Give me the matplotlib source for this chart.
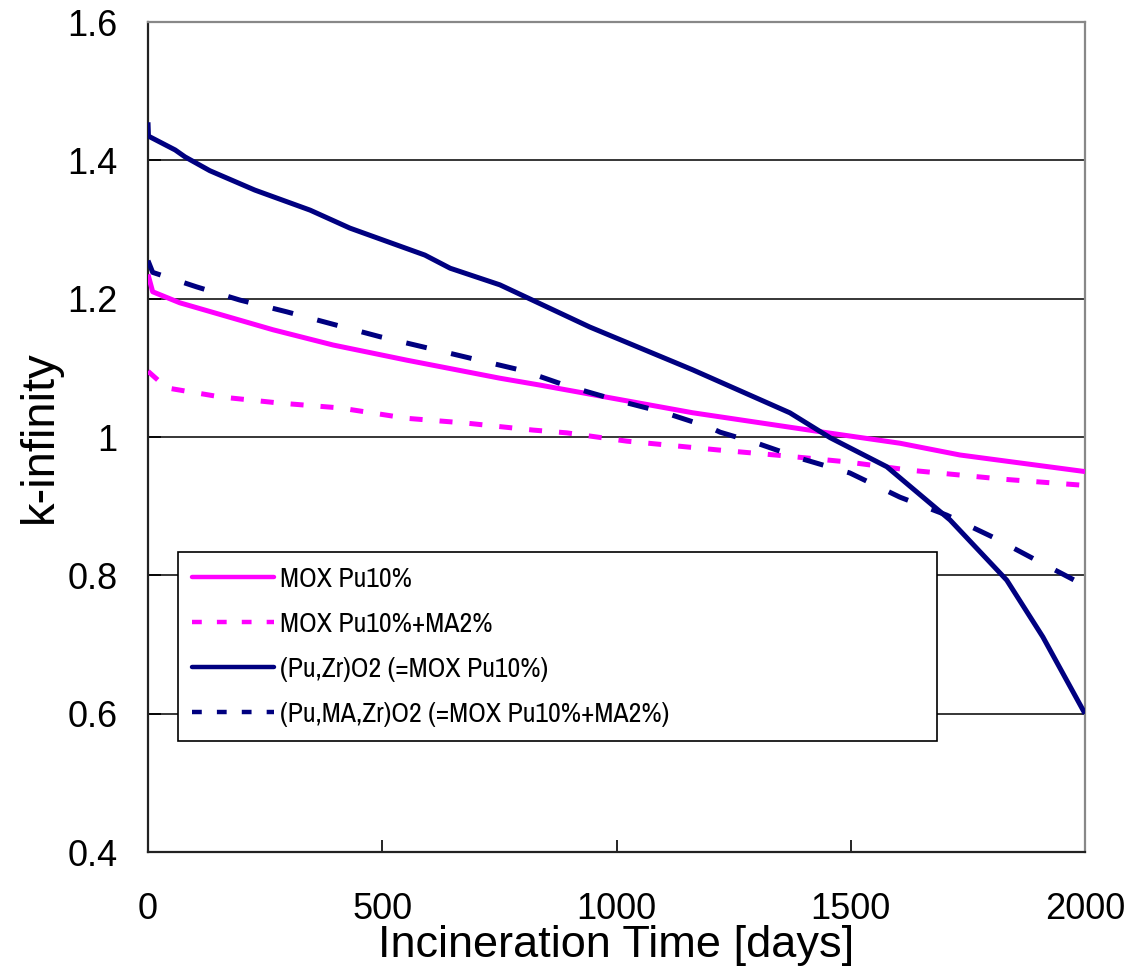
import matplotlib

matplotlib.use("Agg")
import matplotlib.pyplot as plt
from matplotlib.lines import Line2D

# k-infinity vs incineration time
mox_days = [0, 10, 68, 267, 395, 553, 751, 837, 1163, 1441, 1605, 1733, 2000]
mox_k = [1.235, 1.21, 1.194, 1.155, 1.133, 1.111, 1.085, 1.075, 1.035, 1.007, 0.991, 0.974, 0.950]

moxma_days = [0, 40, 154, 282, 410, 553, 681, 822, 894, 1022, 1221, 1355, 1492, 1626, 1825, 2000]
moxma_k = [1.095, 1.071, 1.058, 1.049, 1.042, 1.027, 1.020, 1.010, 1.006, 0.994, 0.981, 0.973,
           0.964, 0.952, 0.939, 0.930]

puzr_days = [0, 1, 58, 79, 132, 228, 346, 431, 591, 645, 751, 943, 1163, 1370, 1456, 1577,
             1712, 1833, 1910, 2000]
puzr_k = [1.455, 1.435, 1.415, 1.405, 1.385, 1.357, 1.328, 1.302, 1.263, 1.244, 1.22, 1.159,
          1.097, 1.035, 0.999, 0.957, 0.880, 0.793, 0.711, 0.600]

pumazr_days = [0, 10, 104, 196, 296, 395, 495, 595, 694, 800, 894, 1001, 1099, 1199, 1221,
               1300, 1398, 1498, 1605, 1705, 1804, 1904, 2000]
pumazr_k = [1.255, 1.238, 1.217, 1.198, 1.181, 1.163, 1.145, 1.129, 1.113, 1.096, 1.074, 1.053,
            1.036, 1.014, 1.007, 0.991, 0.968, 0.948, 0.913, 0.887, 0.855, 0.819, 0.785]

labels = ["MOX Pu10%", "MOX Pu10%+MA2%", "(Pu,Zr)O2 (=MOX Pu10%)", "(Pu,MA,Zr)O2 (=MOX Pu10%+MA2%)"]
x_ticks = [0, 500, 1000, 1500, 2000]
y_ticks = [0.4, 0.6, 0.8, 1.0, 1.2, 1.4, 1.6]
y_ticklabels = ["0.4", "0.6", "0.8", "1", "1.2", "1.4", "1.6"]

MAG = "#FF00FF"
NAVY = "#000080"

plt.rcParams["font.family"] = ["Liberation Sans", "DejaVu Sans"]

fig = plt.figure(figsize=(11.31, 9.72), dpi=100)
ax = fig.add_axes([148 / 1131, 1 - 852 / 972, 937 / 1131, 830 / 972])

ax.plot(mox_days, mox_k, color=MAG, lw=3.6, solid_capstyle="butt", zorder=3)
ax.plot(moxma_days, moxma_k, color=MAG, lw=3.6, dashes=(2.6, 3.4), dash_capstyle="butt", zorder=3)
ax.plot(puzr_days, puzr_k, color=NAVY, lw=3.6, solid_capstyle="butt", zorder=4)
ax.plot(pumazr_days, pumazr_k, color=NAVY, lw=3.6, dashes=(4.2, 5.0), dash_capstyle="butt", zorder=4)

ax.set_xlim(0, 2000)
ax.set_ylim(0.4, 1.6)
ax.set_xticks(x_ticks)
ax.set_yticks(y_ticks)
ax.set_yticklabels(y_ticklabels)
ax.tick_params(axis="both", direction="in", length=9, width=1.2, labelsize=26, color="black")
ax.tick_params(axis="x", pad=29)
ax.tick_params(axis="y", pad=22)
ax.yaxis.grid(True, color="black", lw=1.1)
ax.set_axisbelow(True)

for side in ("left", "bottom"):
    ax.spines[side].set_color("#222222")
    ax.spines[side].set_linewidth(1.6)
for side in ("top", "right"):
    ax.spines[side].set_color("#888888")
    ax.spines[side].set_linewidth(1.6)

ax.set_xlabel("Incineration Time [days]", fontsize=32.5, labelpad=-2)
ax.set_ylabel("k-infinity", fontsize=34, labelpad=4)

handles = [
    Line2D([], [], color=MAG, lw=3.2, solid_capstyle="round"),
    Line2D([], [], color=MAG, lw=3.2, dashes=(2.2, 3.4), dash_capstyle="butt"),
    Line2D([], [], color=NAVY, lw=3.2, solid_capstyle="round"),
    Line2D([], [], color=NAVY, lw=3.2, dashes=(2.2, 3.4), dash_capstyle="butt"),
]
leg = ax.legend(handles, labels, loc="upper left", bbox_to_anchor=(0.032, 0.137, 0.810, 0.224),
                mode="expand", borderaxespad=0, frameon=True, fancybox=False, framealpha=1,
                edgecolor="black", handlelength=2.95, handletextpad=0.2,
                labelspacing=0.72, borderpad=0.52,
                prop={"family": ["Liberation Sans Narrow", "Archivo Narrow", "Liberation Sans"],
                      "size": 20})
leg.get_frame().set_linewidth(1.2)
leg.set_zorder(5)

fig.savefig("out.png", dpi=100, facecolor="white")
